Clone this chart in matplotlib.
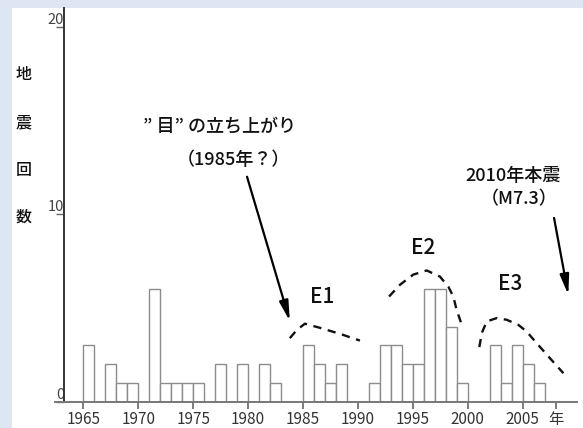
import matplotlib
matplotlib.use('Agg')
from matplotlib import pyplot as plt
from matplotlib.patches import Rectangle

# earthquake counts per year (years with zero counts omitted)
years = [1965, 1967, 1968, 1969, 1971, 1972, 1973, 1974, 1975, 1977, 1979,
         1981, 1982, 1985, 1986, 1987, 1988, 1991, 1992, 1993, 1994, 1995,
         1996, 1997, 1998, 1999, 2002, 2003, 2004, 2005, 2006]
counts = [3, 2, 1, 1, 6, 1, 1, 1, 1, 2, 2,
          2, 1, 3, 2, 1, 2, 1, 3, 3, 2, 2,
          6, 6, 4, 1, 3, 1, 3, 2, 1]

xtick_pos = [1965, 1970, 1975, 1980, 1985, 1990, 1995, 2000, 2005, 2008]
xtick_labels = ['1965', '1970', '1975', '1980', '1985', '1990', '1995',
                '2000', '2005', '年']
ytick_pos = [0, 10, 20]

# hand-drawn activity envelopes
e1_x = [1983.8, 1984.44, 1985.17, 1986.54, 1988.36, 1990.18]
e1_y = [3.39, 3.83, 4.16, 3.94, 3.62, 3.26]
e2_x = [1992.83, 1993.83, 1995.04, 1996.26, 1997.47, 1998.23, 1998.68, 1998.98, 1999.38]
e2_y = [5.61, 6.24, 6.78, 7.0, 6.67, 6.13, 5.61, 4.90, 4.22]
e3_x = [2001.05, 2001.27, 2001.72, 2002.63, 2003.54, 2004.6, 2005.36, 2006.27, 2007.48, 2008.7]
e3_y = [2.91, 3.66, 4.28, 4.46, 4.37, 4.10, 3.74, 3.12, 2.32, 1.52]

cjk = ['Noto Sans CJK JP', 'DejaVu Sans']
num = ['Liberation Sans Narrow', 'Noto Sans CJK JP', 'DejaVu Sans']

fig = plt.figure(figsize=(5.83, 4.28), dpi=100)
fig.patch.set_facecolor('white')
blue = '#dfe6f3'
fig.add_artist(Rectangle((0, 0), 12 / 583, 1, transform=fig.transFigure,
                         facecolor=blue, edgecolor='none', zorder=-10))
fig.add_artist(Rectangle((0, 1 - 8 / 428), 1, 8 / 428, transform=fig.transFigure,
                         facecolor=blue, edgecolor='none', zorder=-10))

ax = fig.add_axes([55 / 583, 26.3 / 428, 522 / 583, 393.7 / 428])
ax.set_facecolor('none')
ax.set_xlim(1962.42, 2009.94)
ax.set_ylim(0, 21.0)

ax.bar(years, counts, width=1, align='edge', facecolor='white',
       edgecolor='#8c8c8c', linewidth=1.0)

for sp in ['top', 'right']:
    ax.spines[sp].set_visible(False)
ax.spines['left'].set_position(('data', 1963.24))
ax.spines['left'].set_color('#333333')
ax.spines['left'].set_linewidth(1.4)
ax.spines['bottom'].set_color('#777777')
ax.spines['bottom'].set_linewidth(1.4)

ax.set_xticks(xtick_pos)
ax.set_xticklabels(xtick_labels)
ax.tick_params(axis='x', direction='out', length=5, width=1.2, color='#666666',
               labelsize=11, labelcolor='#333333', pad=2)
for lab in ax.get_xticklabels():
    lab.set_family(num)

ax.set_yticks(ytick_pos)
ax.set_yticklabels([str(v) for v in ytick_pos])
ax.tick_params(axis='y', direction='out', length=6, width=1.0, color='#666666',
               labelsize=10.5, labelcolor='#444444', pad=-6)
for lab in ax.get_yticklabels():
    lab.set_family(num)
    lab.set_verticalalignment('bottom')

# dashed envelopes
for xs, ys in [(e1_x, e1_y), (e2_x, e2_y), (e3_x, e3_y)]:
    ax.plot(xs, ys, color='#111111', lw=1.7, linestyle=(0, (3.5, 2.8)),
            dash_capstyle='butt')

txt = dict(family=cjk, ha='center', va='center', color='#111111', weight='medium')
ax.text(1986.7, 5.6, 'E1', fontsize=15, **txt)
ax.text(1995.95, 8.2, 'E2', fontsize=15, **txt)
ax.text(2003.9, 6.3, 'E3', fontsize=15, **txt)

arrow = dict(arrowstyle='-|>,head_length=0.75,head_width=0.17',
             color='black', lw=1.6, mutation_scale=16, shrinkA=0, shrinkB=0)

# annotations
ax.text(1977.35, 14.7, '” 目” の立ち上がり', fontsize=13, **txt)
ax.text(1978.65, 12.9, '（1985年？）', fontsize=13, **txt)
ax.annotate('', xy=(1983.8, 4.3), xytext=(1979.9, 12.0), arrowprops=arrow)

ax.text(2004.07, 12.03, '2010年本震', fontsize=13, **txt)
ax.text(2004.65, 10.8, '（M7.3）', fontsize=13, **txt)
ax.annotate('', xy=(2009.15, 5.7), xytext=(2007.85, 9.8), arrowprops=arrow)

# vertical y label
for ch, py in zip('地震回数', [75, 123, 170, 217]):
    fig.text(24 / 583, 1 - py / 428, ch, fontsize=11.5, **txt)

fig.savefig('out.png', dpi=100)
